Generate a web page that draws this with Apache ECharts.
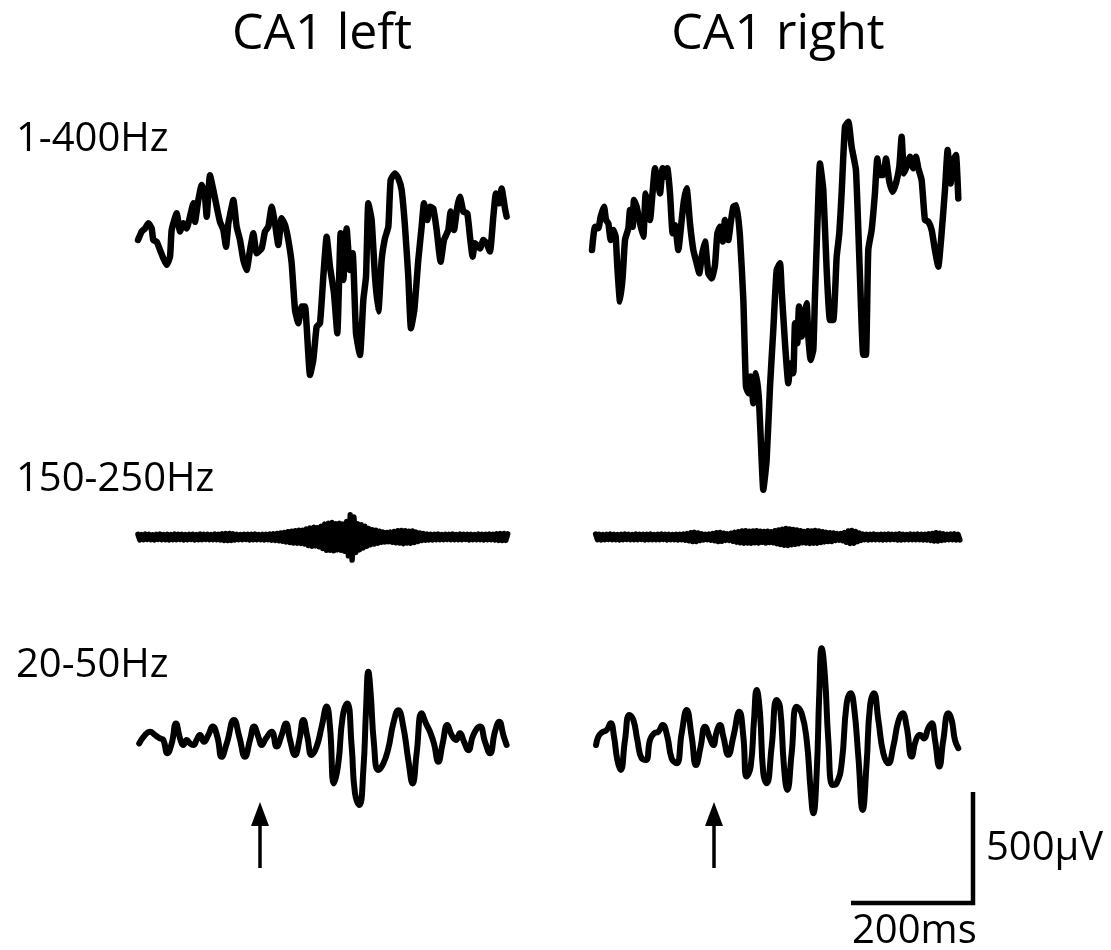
<!DOCTYPE html>
<html>
<head>
<meta charset="utf-8">
<script src="https://cdn.jsdelivr.net/npm/echarts@6/dist/echarts.min.js"></script>
<style>
  html, body { margin: 0; padding: 0; background: #ffffff; }
  #chart { width: 1111px; height: 950px; }
</style>
</head>
<body>
<div id="chart"></div>
<script>
// Column and row titles
const columnTitles = ['CA1 left', 'CA1 right'];
const bandLabels = ['1-400Hz', '150-250Hz', '20-50Hz'];
const scaleTimeMs = 200;
const scaleAmpUv = 500;
const scaleLabels = ['200ms', '500\u03bcV'];
const stimulusMs = 200;   // arrow marks this time in both columns

// Broadband 1-400 Hz traces: [time ms, amplitude µV]
const leftBroad = [
  [0,0],[6,38],[11.5,52],[17,75],[22.4,52],[25.1,0],[30.6,-8],[36.1,-45],[41.5,-82],[47,-112],
  [52.5,-75],[55.2,45],[63.4,120],[68.9,38],[74.3,75],[79.8,52],[85.2,105],[90.7,165],[93.4,82],[98.9,180],
  [104.4,248],[109.8,195],[112.6,105],[118,292],[123.5,225],[129,150],[134.4,82],[139.9,45],[144.3,-30],[148.1,75],
  [150.8,112],[156.3,180],[161.7,60],[167.2,0],[172.7,-90],[178.1,-135],[183.6,-45],[189.1,30],[194.5,-60],[202.7,-38],
  [208.2,38],[213.7,60],[219.1,150],[224.6,75],[230,-22],[235.5,98],[241,68],[246.4,0],[251.9,-105],[257.4,-315],
  [262.8,-375],[268.3,-300],[273.7,-300],[276.5,-390],[282,-608],[287.4,-540],[292.9,-390],[298.3,-375],[303.8,-165],[309.3,15],
  [314.7,-120],[321.3,-240],[326.7,-420],[332.2,30],[336.6,-180],[342,52],[347.5,-135],[351.9,-60],[357.4,-420],[363.9,-518],
  [369.4,-270],[373.8,-165],[377.6,165],[383,90],[388.5,-165],[394,-322],[399.4,-90],[404.9,8],[410.4,60],[414.2,270],
  [421.3,300],[426.8,278],[432.2,225],[437.7,60],[443.1,-165],[447.5,-398],[453,-315],[459.5,-90],[465,60],[468.8,165],
  [474.3,90],[478.7,150],[484.1,142],[489.6,45],[496.1,-98],[501.6,0],[508.7,45],[512.5,128],[518,45],[523.5,150],
  [527.8,195],[533.3,128],[539.8,120],[544.2,15],[548.6,-75],[552.4,-15],[560.6,-38],[566.1,0],[571.5,-15],[577,-52],
  [582.5,105],[586.8,210],[592.3,165],[596.1,232],[601.6,142],[604.3,105]
];
const rightBroad = [
  [0,0],[2.2,60],[4.9,105],[10.4,98],[14.2,150],[19.7,195],[23,135],[26.8,120],[30.6,45],[35,90],
  [38.8,60],[41.5,-75],[45.9,-232],[50.3,-120],[54.1,45],[59.6,98],[62.3,180],[66.7,105],[68.8,225],[73.2,195],
  [78.7,120],[84.1,60],[88,255],[92.3,195],[95.1,135],[99.4,262],[103.3,368],[107.1,322],[111.5,255],[115.8,368],
  [119.7,330],[123.5,368],[127.9,255],[132.2,75],[136.1,112],[141.5,0],[147,135],[150.8,225],[155.2,278],[160.6,120],
  [166.1,0],[171.6,-60],[175.9,-105],[179.8,-30],[185.2,38],[190.7,-105],[196.2,-128],[201.6,-68],[205.5,75],[209.8,105],
  [214.2,38],[218,135],[223.5,45],[227.3,120],[231.7,195],[237.1,202],[242.6,60],[248.1,-225],[252.4,-615],[256.3,-645],
  [260.1,-570],[264.5,-690],[268.8,-555],[273.7,-675],[278.1,-945],[280.8,-1080],[286.3,-945],[291.8,-615],[297.2,-360],[302.7,-90],
  [308.2,-60],[310.9,-180],[316.4,-420],[321.8,-600],[325.7,-510],[330,-555],[332.8,-330],[336.6,-420],[339.3,-255],[343.7,-390],
  [347.5,-300],[351.9,-240],[354.6,-390],[358.4,-495],[362.8,-450],[365.5,-210],[369.4,105],[373.7,390],[379.2,270],[384.7,-90],
  [390.1,-315],[395.6,-315],[401.1,-30],[405.4,75],[409.2,255],[414.7,555],[420.2,578],[425.6,465],[432.7,360],[439.3,-120],
  [444.7,-472],[449.1,-472],[452.9,0],[458.4,90],[463.8,255],[467.7,412],[472,338],[477.5,338],[481.9,412],[487.4,308],
  [492.8,262],[498.3,300],[503.8,375],[507.6,510],[511.4,345],[515.8,375],[521.3,420],[526.7,368],[531.1,420],[534.9,368],
  [540.4,315],[545.8,135],[551.3,128],[556.8,90],[562.2,0],[567.7,-75],[573.1,75],[578.6,270],[583,450],[587.9,300],
  [592.3,405],[596.7,428],[600.5,232]
];

// Ripple band 150-250 Hz: one sample every 3 ms (µV)
const rippleStepMs = 3;
const leftRippleStartMs = 0;
const leftRipple = [
  12,-13,11,-12,13,-11,12,-12,10,-13,
  12,-11,13,-12,11,-12,12,-13,11,-12,
  13,-12,12,-11,12,-13,11,-12,12,-11,
  12,-13,11,-12,13,-12,12,-11,12,-12,
  11,-12,13,-12,12,-13,14,-15,15,-16,
  16,-15,14,-13,12,-12,11,-12,12,-11,
  12,-13,12,-12,13,-12,11,-12,12,-13,
  12,-12,13,-14,14,-15,16,-17,18,-19,
  20,-22,24,-25,26,-27,28,-28,30,-29,
  30,-32,36,-38,40,-42,44,-40,42,-44,
  48,-52,58,-60,62,-60,65,-62,60,-58,
  62,-60,58,-64,70,-85,100,-104,90,-70,
  60,-58,55,-50,48,-42,38,-35,33,-32,
  30,-28,26,-24,22,-22,20,-21,22,-24,
  25,-26,28,-27,29,-30,28,-27,26,-28,
  27,-25,22,-20,18,-16,15,-14,13,-13,
  12,-13,12,-12,13,-12,11,-12,12,-11,
  12,-12,13,-12,11,-12,13,-12,12,-11,
  12,-13,12,-12,11,-12,13,-12,12,-13,
  12,-12,13,-12,12,-13,14,-15,15,-16,
  16,-15,14
];
const rightRippleStartMs = 6;
const rightRipple = [
  13,-12,12,-13,11,-12,12,-11,13,-12,
  12,-12,11,-13,12,-12,13,-11,12,-12,
  11,-12,13,-12,12,-11,12,-13,12,-12,
  13,-12,11,-12,12,-12,13,-11,12,-13,
  12,-12,11,-12,12,-13,12,-12,13,-14,
  15,-17,19,-20,21,-20,18,-16,14,-13,
  12,-12,13,-14,15,-17,19,-20,20,-19,
  17,-15,14,-15,17,-19,21,-23,24,-26,
  27,-28,28,-27,26,-28,27,-26,28,-27,
  26,-24,25,-27,26,-25,24,-26,28,-30,
  32,-34,35,-37,38,-38,36,-35,34,-33,
  32,-30,28,-26,25,-27,28,-29,27,-28,
  29,-28,27,-25,24,-22,21,-20,19,-20,
  18,-16,15,-14,15,-17,20,-24,27,-29,
  29,-28,25,-21,18,-15,13,-12,12,-13,
  12,-12,13,-12,11,-12,12,-13,12,-12,
  13,-12,12,-11,12,-13,14,-13,12,-12,
  11,-12,13,-12,12,-12,13,-12,12,-13,
  12,-13,14,-15,16,-18,19,-18,17,-15,
  14,-13,12,-12,13,-12,14,-13,12,-13
];

// Gamma band 20-50 Hz traces: [time ms, amplitude µV]
const leftGamma = [
  [2,-8],[11.5,30],[19.7,45],[27.9,30],[36.1,15],[41.5,8],[48.1,-52],[55.2,-8],[62.3,82],[68.9,15],
  [74.3,-15],[79.8,8],[85.2,-8],[90.7,-15],[96.2,8],[101.6,30],[108.2,0],[115.3,30],[122.4,68],[130.1,22],
  [137.1,-68],[145.4,-8],[157.4,98],[166.1,22],[175.4,-68],[183.6,8],[190.2,68],[197.3,22],[202.7,-15],[209.8,15],
  [219.1,45],[227.3,-22],[235.5,30],[242.6,82],[249.2,8],[257.4,-60],[264.5,8],[271,98],[277.6,22],[284.7,-60],
  [292.9,-22],[301.1,68],[309.3,158],[314.7,68],[321.3,-188],[328.4,-98],[335.5,112],[343.1,172],[350.3,-22],[355.7,-232],
  [362.8,-285],[369.4,-128],[373.8,142],[377.6,315],[381.4,218],[386.8,-8],[393.9,-128],[402.2,-98],[410.4,-30],[418.5,82],
  [426.7,142],[434.9,68],[443.1,-82],[450.2,-188],[456.8,-52],[465,128],[472.1,82],[478.6,45],[485.2,-8],[492.3,-90],
  [499.4,-8],[507.1,75],[514.2,30],[521.3,8],[527.8,38],[534.4,0],[541.5,-38],[549.7,30],[560.6,68],[568.8,0],
  [577,-52],[585.2,45],[592.3,90],[598.9,30],[604.3,-15]
];
const rightGamma = [
  [6.6,-8],[10.4,30],[15.8,48],[24,60],[30.6,90],[36.1,30],[41.5,-75],[47,-120],[54.1,15],[61.2,128],
  [67.8,105],[74.3,15],[81.4,-68],[88.5,-75],[95.1,15],[101.6,45],[108.7,52],[115.8,82],[123.5,30],[130.6,-68],
  [138.8,-90],[147,45],[155.2,150],[163.4,30],[170.5,-98],[178.1,-15],[185.2,75],[193.4,22],[198.9,-8],[204.4,52],
  [209.8,82],[215.3,30],[223.5,-52],[231.7,30],[241.5,142],[248.1,30],[253.5,-150],[260.1,-105],[265.6,105],[269.9,240],
  [275.4,135],[280.8,-135],[286.3,-180],[294.5,-15],[302.7,195],[308.2,165],[314.7,-105],[320.2,-210],[327.3,-45],[335.5,165],
  [343.7,135],[351.9,15],[358.4,-210],[362.8,-315],[368.3,-135],[372.6,225],[376.5,428],[381.9,300],[387.4,15],[394.5,-188],
  [401.1,-180],[409.3,-90],[417.5,180],[424,225],[429.5,165],[436.6,-60],[443.7,-300],[450.2,-90],[455.7,165],[462.2,225],
  [469.4,105],[477.6,-45],[485.7,-90],[493.9,-15],[502.1,98],[509.2,135],[515.8,75],[524,-60],[531.1,15],[537.7,38],
  [544.2,22],[551.3,68],[556.8,90],[562.3,15],[569.4,-105],[575.9,15],[584.1,135],[589.6,105],[595,15],[600.5,-22]
];

// ---- layout (pixels) ----
const W = 1111, H = 950;
const PX_PER_MS = 0.61;     // horizontal scale
const PX_PER_UV = 0.222;    // vertical scale
const colX = [138, 592];                    // time zero of each column
const rowBase = [[240, 250], [537, 537], [741.7, 743.3]]; // trace baselines per row / column
const scaleCorner = [973, 903];
const arrowTipY = 802, arrowTailY = 868;

const tOf = px => px / PX_PER_MS;
const vOf = py => -py / PX_PER_UV;

function place(trace, col, row) {
  const dt = tOf(colX[col]);
  const dv = vOf(rowBase[row][col]);
  return trace.map(p => [p[0] + dt, p[1] + dv]);
}
function rippleTrace(values, startMs) {
  return values.map((v, i) => [startMs + i * rippleStepMs, v]);
}

function traceSeries(data, width, smooth) {
  return {
    type: 'line',
    data: data,
    showSymbol: false,
    symbol: 'none',
    smooth: smooth,
    clip: false,
    lineStyle: { color: '#000', width: width, join: 'round', cap: 'round' },
    silent: true
  };
}

const series = [
  traceSeries(place(leftBroad, 0, 0), 6.5, 0.15),
  traceSeries(place(rightBroad, 1, 0), 6.5, 0.15),
  traceSeries(place(rippleTrace(leftRipple, leftRippleStartMs), 0, 1), 5.5, false),
  traceSeries(place(rippleTrace(rightRipple, rightRippleStartMs), 1, 1), 5.5, false),
  traceSeries(place(leftGamma, 0, 2), 6, 0.5),
  traceSeries(place(rightGamma, 1, 2), 6, 0.5)
];

// scale bar: 200 ms horizontal, 500 µV vertical
const ct = tOf(scaleCorner[0]), cv = vOf(scaleCorner[1]);
series.push({
  type: 'line',
  data: [[ct - scaleTimeMs, cv], [ct, cv], [ct, cv + scaleAmpUv]],
  showSymbol: false, symbol: 'none', clip: false, silent: true,
  lineStyle: { color: '#000', width: 4.5, cap: 'butt', join: 'miter' }
});

// stimulus arrows
[0, 1].forEach(col => {
  const t = stimulusMs + tOf(colX[col]);
  series.push({
    type: 'line',
    data: [
      { value: [t, vOf(arrowTailY)], symbol: 'none' },
      { value: [t, vOf(arrowTipY + 12)], symbol: 'triangle', symbolSize: [18, 24] }
    ],
    showSymbol: true, clip: false, silent: true,
    itemStyle: { color: '#000' },
    lineStyle: { color: '#000', width: 3.5 }
  });
});

const FONT = '"Open Sans", "Noto Sans", sans-serif';
function label(text, x, y, size, align) {
  return {
    type: 'text', x: x, y: y, silent: true,
    style: { text: text, fill: '#000', font: 'normal ' + size + 'px ' + FONT,
             textAlign: align, textVerticalAlign: 'middle' }
  };
}

const graphics = [
  label(columnTitles[0], 322, 35, 50, 'center'),
  label(columnTitles[1], 778, 35, 50, 'center'),
  label(bandLabels[0], 16, 140, 40, 'left'),
  label(bandLabels[1], 16, 480, 40, 'left'),
  label(bandLabels[2], 16, 666, 40, 'left'),
  label(scaleLabels[1], 986, 849, 40, 'left'),
  label(scaleLabels[0], 852, 932, 40, 'left')
];

const chart = echarts.init(document.getElementById('chart'), null, { renderer: 'canvas' });
chart.setOption({
  animation: false,
  backgroundColor: '#ffffff',
  grid: { left: 0, right: 0, top: 0, bottom: 0, containLabel: false },
  xAxis: { type: 'value', min: 0, max: W / PX_PER_MS, show: false, scale: true },
  yAxis: { type: 'value', min: -H / PX_PER_UV, max: 0, show: false, scale: true },
  series: series,
  graphic: graphics
});
</script>
</body>
</html>
